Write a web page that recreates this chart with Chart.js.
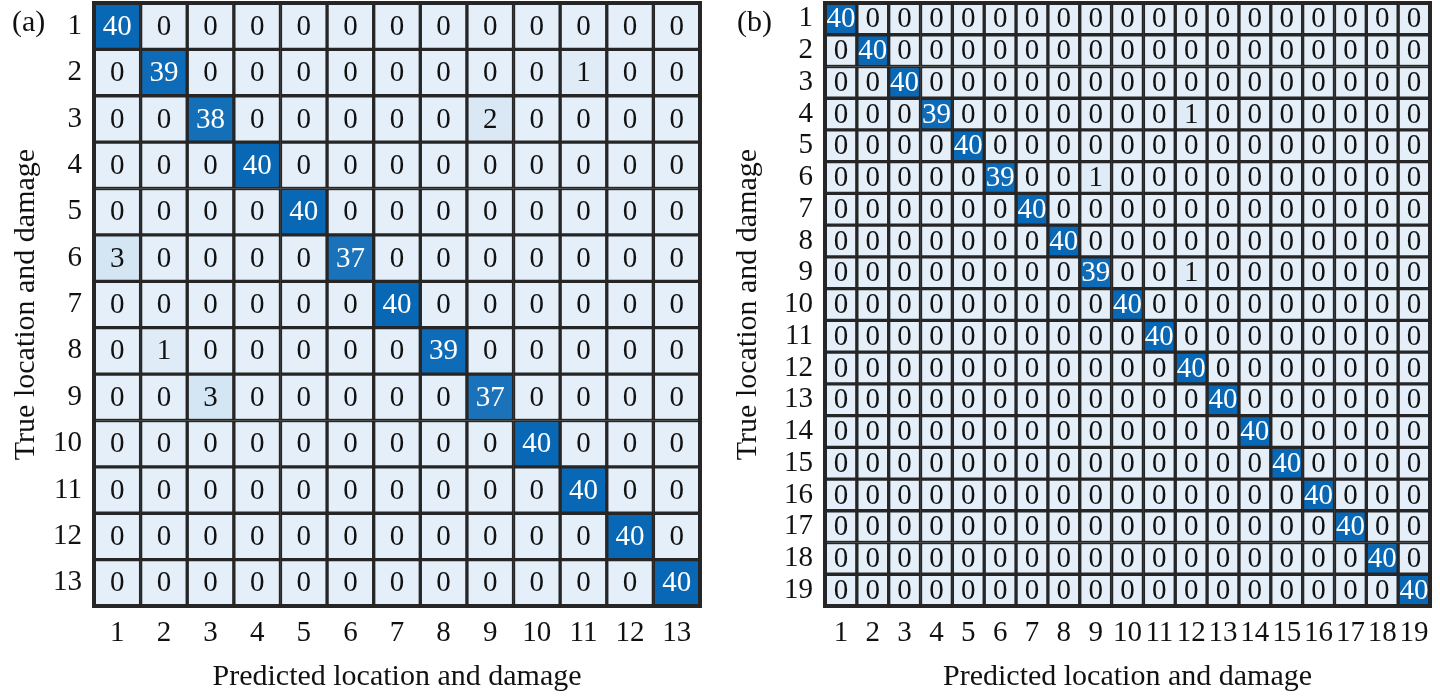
<!DOCTYPE html>
<html>
<head>
<meta charset="utf-8">
<script src="https://cdn.jsdelivr.net/npm/chart.js@4.4.1/dist/chart.umd.min.js"></script>
<style>
  html, body { margin: 0; padding: 0; background: #fff; }
  .panel { position: absolute; top: 0; width: 720px; height: 698px; }
  .tag { position: absolute; top: 4px; font: 30px "Liberation Serif", "Times New Roman", serif; color: #111; }
</style>
</head>
<body>
<div class="panel" style="left:0"><canvas id="chart-a"></canvas></div>
<div class="panel" style="left:720px"><canvas id="chart-b"></canvas></div>
<div class="tag" style="left:12px">(a)</div>
<div class="tag" style="left:737px">(b)</div>
<script>
// confusion matrices: rows = true class, columns = predicted class
const labelsA = ['1','2','3','4','5','6','7','8','9','10','11','12','13'];
const matrixA = [
  [40,0,0,0,0,0,0,0,0,0,0,0,0],
  [0,39,0,0,0,0,0,0,0,0,1,0,0],
  [0,0,38,0,0,0,0,0,2,0,0,0,0],
  [0,0,0,40,0,0,0,0,0,0,0,0,0],
  [0,0,0,0,40,0,0,0,0,0,0,0,0],
  [3,0,0,0,0,37,0,0,0,0,0,0,0],
  [0,0,0,0,0,0,40,0,0,0,0,0,0],
  [0,1,0,0,0,0,0,39,0,0,0,0,0],
  [0,0,3,0,0,0,0,0,37,0,0,0,0],
  [0,0,0,0,0,0,0,0,0,40,0,0,0],
  [0,0,0,0,0,0,0,0,0,0,40,0,0],
  [0,0,0,0,0,0,0,0,0,0,0,40,0],
  [0,0,0,0,0,0,0,0,0,0,0,0,40]
];

const labelsB = ['1','2','3','4','5','6','7','8','9','10','11','12','13','14','15','16','17','18','19'];
const matrixB = [
  [40,0,0,0,0,0,0,0,0,0,0,0,0,0,0,0,0,0,0],
  [0,40,0,0,0,0,0,0,0,0,0,0,0,0,0,0,0,0,0],
  [0,0,40,0,0,0,0,0,0,0,0,0,0,0,0,0,0,0,0],
  [0,0,0,39,0,0,0,0,0,0,0,1,0,0,0,0,0,0,0],
  [0,0,0,0,40,0,0,0,0,0,0,0,0,0,0,0,0,0,0],
  [0,0,0,0,0,39,0,0,1,0,0,0,0,0,0,0,0,0,0],
  [0,0,0,0,0,0,40,0,0,0,0,0,0,0,0,0,0,0,0],
  [0,0,0,0,0,0,0,40,0,0,0,0,0,0,0,0,0,0,0],
  [0,0,0,0,0,0,0,0,39,0,0,1,0,0,0,0,0,0,0],
  [0,0,0,0,0,0,0,0,0,40,0,0,0,0,0,0,0,0,0],
  [0,0,0,0,0,0,0,0,0,0,40,0,0,0,0,0,0,0,0],
  [0,0,0,0,0,0,0,0,0,0,0,40,0,0,0,0,0,0,0],
  [0,0,0,0,0,0,0,0,0,0,0,0,40,0,0,0,0,0,0],
  [0,0,0,0,0,0,0,0,0,0,0,0,0,40,0,0,0,0,0],
  [0,0,0,0,0,0,0,0,0,0,0,0,0,0,40,0,0,0,0],
  [0,0,0,0,0,0,0,0,0,0,0,0,0,0,0,40,0,0,0],
  [0,0,0,0,0,0,0,0,0,0,0,0,0,0,0,0,40,0,0],
  [0,0,0,0,0,0,0,0,0,0,0,0,0,0,0,0,0,40,0],
  [0,0,0,0,0,0,0,0,0,0,0,0,0,0,0,0,0,0,40]
];

const xTitle = 'Predicted location and damage';
const yTitle = 'True location and damage';
const maxCount = 40;

const FONT = '"Liberation Serif", "Times New Roman", serif';
const lowColor = [229, 239, 249];
const highColor = [8, 104, 181];

function cellColor(v) {
  const t = Math.min(v / maxCount, 1);
  const c = lowColor.map((l, i) => Math.round(l + (highColor[i] - l) * t));
  return `rgb(${c[0]},${c[1]},${c[2]})`;
}

// writes the count in the middle of every cell and strokes the outer frame
const cellText = {
  id: 'cellText',
  afterDatasetsDraw(chart) {
    const ctx = chart.ctx;
    ctx.save();
    ctx.font = `29px ${FONT}`;
    ctx.textAlign = 'center';
    ctx.textBaseline = 'middle';
    chart.data.datasets.forEach((ds, di) => {
      chart.getDatasetMeta(di).data.forEach((bar, j) => {
        const v = ds.counts[j];
        const p = bar.getCenterPoint();
        ctx.fillStyle = v > maxCount / 2 ? '#ffffff' : '#111111';
        ctx.fillText(String(v), p.x, p.y + 1);
      });
    });
    const a = chart.chartArea;
    ctx.strokeStyle = '#262626';
    ctx.lineWidth = 4;
    ctx.strokeRect(a.left, a.top, a.right - a.left, a.bottom - a.top);
    ctx.restore();
  }
};

function makeMatrix(canvasId, labels, matrix, lay) {
  const canvas = document.getElementById(canvasId);
  canvas.width = 720;
  canvas.height = 698;
  const n = labels.length;
  const datasets = matrix.map((row, r) => ({
    label: 'True ' + labels[r],
    data: row.map(() => [r + 0.5, r + 1.5]),
    counts: row,
    backgroundColor: row.map(v => cellColor(v)),
    borderColor: '#262626',
    borderWidth: 2,
    borderSkipped: false,
    barPercentage: 1,
    categoryPercentage: 1,
    grouped: false
  }));

  return new Chart(canvas.getContext('2d'), {
    type: 'bar',
    data: { labels: labels, datasets: datasets },
    options: {
      responsive: false,
      animation: false,
      layout: { padding: { left: 0, right: lay.right, top: 3, bottom: 0 } },
      plugins: { legend: { display: false }, tooltip: { enabled: false } },
      scales: {
        x: {
          type: 'category',
          offset: true,
          grid: { display: false, drawTicks: false },
          border: { display: false },
          ticks: { autoSkip: false, maxRotation: 0, padding: 10, color: '#111', font: { family: FONT, size: 29 } },
          title: { display: true, text: xTitle, color: '#111', font: { family: FONT, size: 30 }, padding: { top: 0, bottom: 3 } },
          afterFit(scale) {
            scale.height = 92;
            scale.paddingLeft = 0;
            scale.paddingRight = 0;
          }
        },
        y: {
          type: 'linear',
          reverse: true,
          min: 0.5,
          max: n + 0.5,
          grid: { display: false, drawTicks: false },
          border: { display: false },
          afterBuildTicks(scale) { scale.ticks = labels.map((_, i) => ({ value: i + 1 })); },
          ticks: { autoSkip: false, padding: 12, color: '#111', font: { family: FONT, size: 29 }, callback: (v) => labels[Math.round(v) - 1] },
          title: { display: true, text: yTitle, color: '#111', font: { family: FONT, size: 30 }, padding: { top: lay.titleTop, bottom: 0 } },
          afterFit(scale) {
            scale.width = lay.yWidth;
            scale.paddingTop = 0;
            scale.paddingBottom = 0;
          }
        }
      }
    },
    plugins: [cellText]
  });
}

makeMatrix('chart-a', labelsA, matrixA, { right: 20, yWidth: 94, titleTop: 8 });
makeMatrix('chart-b', labelsB, matrixB, { right: 10, yWidth: 105, titleTop: 10 });
</script>
</body>
</html>
